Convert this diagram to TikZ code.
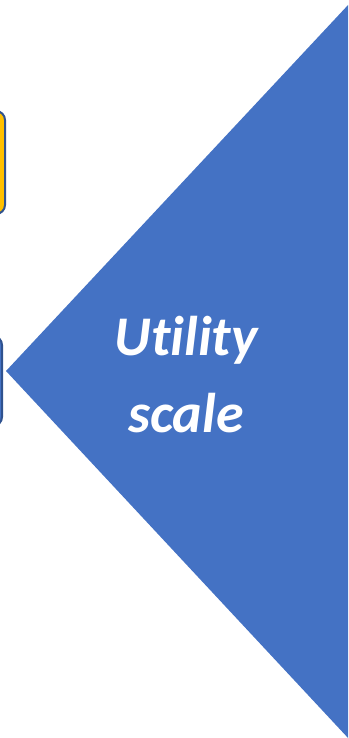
\documentclass[tikz,border=0pt]{standalone}
\usepackage{fontspec}
\setmainfont[Ligatures=NoCommon]{Carlito}
\definecolor{triblue}{HTML}{4472C4}
\definecolor{boxyellow}{HTML}{FFC000}
\definecolor{boxline}{HTML}{2F528F}
\begin{document}
\begin{tikzpicture}[x=1pt,y=-1pt,
    scaletext/.style={text=white,font=\fontsize{56}{60}\selectfont\bfseries\itshape,anchor=base,inner sep=0pt}]
  \useasboundingbox (0,0) rectangle (348,738);
  \clip (0,0) rectangle (348,738);
  % boxes cut off at the left
  \draw[boxline,line width=2pt,fill=boxyellow,rounded corners=9pt] (-80,111) rectangle (5,214);
  \draw[boxline,line width=2pt,fill=triblue,rounded corners=9pt] (-80,336) rectangle (2,426);
  % arrow head
  \fill[triblue] (349,4) -- (6,371) -- (349,739) -- cycle;
  \node[scaletext] (util) at (186,355) {Utility};
  \node[scaletext] (scale) at (186,432) {scale};
\end{tikzpicture}
\end{document}
